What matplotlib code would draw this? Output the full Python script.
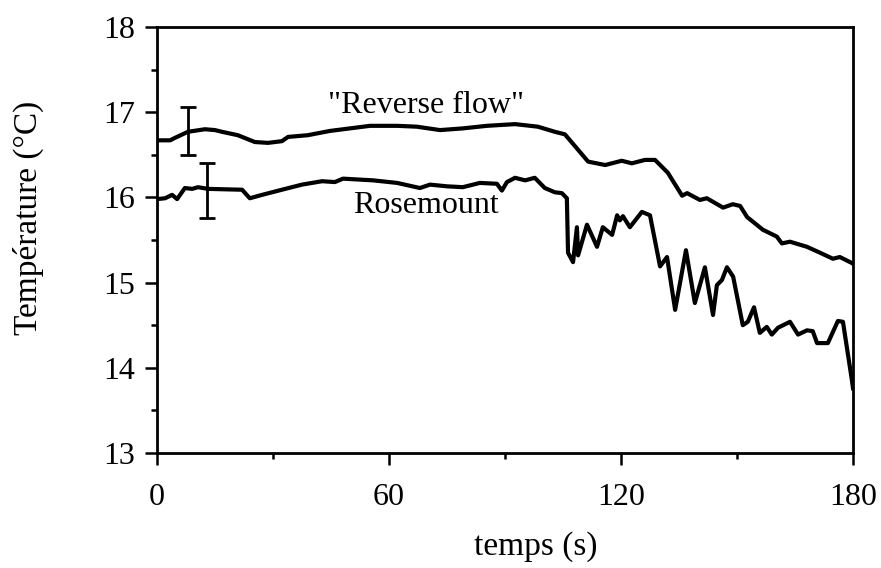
import matplotlib
matplotlib.use("Agg")
import matplotlib.pyplot as plt
from matplotlib.ticker import MultipleLocator

plt.rcParams['font.family'] = ['Liberation Serif', 'DejaVu Serif']

# "Reverse flow" sensor
t_rev = [0, 3.4, 4.7, 8.0, 12.4, 15.0, 16.8, 20.9, 25.3, 28.7, 32.3, 33.9, 39.0, 44.7,
         49.9, 55.1, 62.1, 67.2, 73.2, 79.1, 85.3, 92.6, 98.5, 102.9, 105.5, 111.5,
         115.9, 120.2, 122.8, 126.2, 128.8, 132.1, 135.8, 137.1, 140.4, 142.2, 146.4,
         148.9, 150.8, 152.6, 156.7, 160.3, 161.6, 163.7, 168.1, 171.5, 174.8, 176.6,
         179.7, 180]
v_rev = [16.67, 16.67, 16.70, 16.77, 16.80, 16.79, 16.77, 16.73, 16.65, 16.64, 16.66,
         16.71, 16.73, 16.78, 16.81, 16.84, 16.84, 16.83, 16.79, 16.81, 16.84, 16.86,
         16.83, 16.77, 16.74, 16.42, 16.38, 16.43, 16.40, 16.44, 16.44, 16.29, 16.02,
         16.05, 15.97, 15.99, 15.88, 15.92, 15.90, 15.77, 15.62, 15.54, 15.46, 15.48,
         15.42, 15.35, 15.28, 15.30, 15.23, 15.22]

# Rosemount sensor
t_ros = [0, 2.1, 3.9, 5.2, 7.2, 9.1, 10.6, 13.2, 22.0, 24.0, 27.2, 32.3, 37.5, 42.7,
         46.0, 48.1, 55.9, 62.1, 68.0, 70.6, 75.0, 79.1, 83.5, 87.9, 89.2, 90.5, 92.6,
         95.2, 97.7, 100.3, 102.9, 104.7, 106.0, 106.3, 107.6, 108.6, 108.9, 111.2,
         113.8, 115.3, 117.7, 119.0, 119.7, 120.5, 122.3, 125.4, 127.5, 130.1, 131.9,
         134.0, 136.8, 139.1, 141.7, 143.8, 144.8, 146.1, 147.4, 149.0, 151.5, 152.8,
         154.4, 155.9, 157.7, 159.0, 160.6, 163.7, 165.8, 168.1, 169.6, 170.7, 173.5,
         176.1, 177.4, 179.7, 180]
v_ros = [15.98, 15.99, 16.03, 15.98, 16.11, 16.10, 16.12, 16.10, 16.09, 15.99, 16.03,
         16.09, 16.15, 16.19, 16.18, 16.22, 16.20, 16.17, 16.11, 16.15, 16.13, 16.12,
         16.17, 16.16, 16.08, 16.18, 16.23, 16.20, 16.23, 16.11, 16.06, 16.05, 15.99,
         15.35, 15.24, 15.65, 15.32, 15.68, 15.42, 15.65, 15.56, 15.79, 15.73, 15.78,
         15.65, 15.83, 15.79, 15.19, 15.30, 14.68, 15.38, 14.76, 15.18, 14.62, 14.97,
         15.03, 15.18, 15.07, 14.50, 14.54, 14.71, 14.41, 14.48, 14.39, 14.47, 14.54,
         14.39, 14.44, 14.43, 14.29, 14.29, 14.55, 14.54, 13.86, 13.76]

# error bars: (time, centre, half-width)
err_t = [8.0, 12.9]
err_v = [16.78, 16.08]
err_e = [0.28, 0.32]

labels = ['"Reverse flow"', 'Rosemount']
label_t = [69.5, 69.5]
label_v = [16.99, 15.82]

xticks = [0, 60, 120, 180]
yticks = [13, 14, 15, 16, 17, 18]

fig = plt.figure(figsize=(8.81, 5.68), dpi=100)
ax = fig.add_axes([157/881, 1-453/568, 696/881, 426/568])

ax.plot(t_rev, v_rev, color='black', lw=3.0, solid_joinstyle='round')
ax.plot(t_ros, v_ros, color='black', lw=3.0, solid_joinstyle='round')
ax.errorbar(err_t, err_v, yerr=err_e, fmt='none', ecolor='black', elinewidth=2.0,
            capsize=5.5, capthick=2.0)

for s, x, y in zip(labels, label_t, label_v):
    ax.text(x, y, s, ha='center', va='baseline', fontsize=23)

ax.set_xlim(0, 180)
ax.set_ylim(13, 18)
ax.set_xticks(xticks)
ax.set_yticks(yticks)
ax.xaxis.set_minor_locator(MultipleLocator(30))
ax.yaxis.set_minor_locator(MultipleLocator(0.5))
ax.tick_params(which='major', direction='out', length=8.5, width=1.8, labelsize=23,
               top=False, right=False)
ax.tick_params(which='minor', direction='out', length=4.5, width=1.8,
               top=False, right=False)
ax.tick_params(axis='x', which='major', pad=13)
ax.tick_params(axis='y', which='major', pad=7)
for sp in ax.spines.values():
    sp.set_linewidth(2.0)

fig.text(536/881, 1-547/568, 'temps (s)', ha='center', va='center', fontsize=24)
fig.text(28/881, 1-218/568, 'Température (°C)', ha='center', va='center',
         rotation=90, fontsize=24)

fig.savefig('out.png', dpi=100)
